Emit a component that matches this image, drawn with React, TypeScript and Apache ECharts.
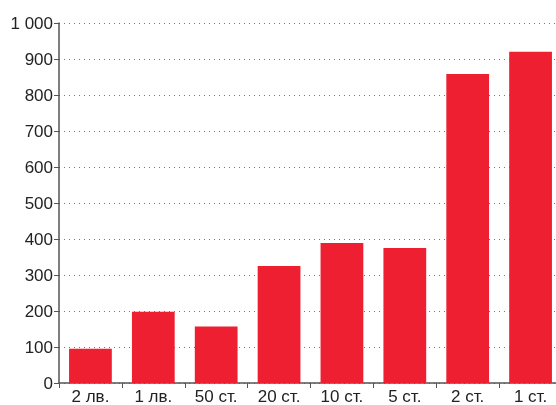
import React, { useEffect, useRef } from "react";
import * as echarts from "echarts";

const categories = ["2 лв.", "1 лв.", "50 ст.", "20 ст.", "10 ст.", "5 ст.", "2 ст.", "1 ст."];
const values = [95, 198, 157, 325, 389, 375, 858, 920];
const yTicks = [0, 100, 200, 300, 400, 500, 600, 700, 800, 900, 1000];

export default function App() {
  const ref = useRef<HTMLDivElement>(null);
  useEffect(() => {
    const chart = echarts.init(ref.current!, null, { renderer: "svg" });
    chart.setOption({
      animation: false,
      grid: { left: 59, right: 0, top: 23, bottom: 22 },
      xAxis: {
        type: "category",
        data: categories,
        axisLine: { lineStyle: { color: "#555", width: 1.5 } },
        axisTick: { show: true, length: 5, lineStyle: { color: "#555" } },
        axisLabel: { color: "#222", fontSize: 17, fontFamily: "Liberation Sans, Arial", margin: 5 },
      },
      yAxis: {
        type: "value",
        min: yTicks[0],
        max: yTicks[yTicks.length - 1],
        interval: 100,
        axisLine: { show: true, lineStyle: { color: "#555", width: 1.5 } },
        axisTick: { show: true, length: 5, lineStyle: { color: "#555" } },
        axisLabel: {
          color: "#222",
          fontSize: 17,
          fontFamily: "Liberation Sans, Arial",
          margin: 6,
          formatter: (v: number) => String(v).replace(/\B(?=(\d{3})+(?!\d))/g, " "),
        },
        splitLine: { show: true, lineStyle: { color: "#777", type: [1, 4], width: 1 } },
      },
      series: [
        {
          type: "bar",
          data: values,
          barWidth: "68%",
          itemStyle: { color: "#ed1f30" },
        },
      ],
    });
    return () => chart.dispose();
  }, []);
  return (
    <div style={{ width: 556, height: 405, position: "fixed", left: 0, top: 0, overflow: "hidden" }}>
      <div ref={ref} lang="bg" style={{ width: 562, height: 405 }} />
    </div>
  );
}
